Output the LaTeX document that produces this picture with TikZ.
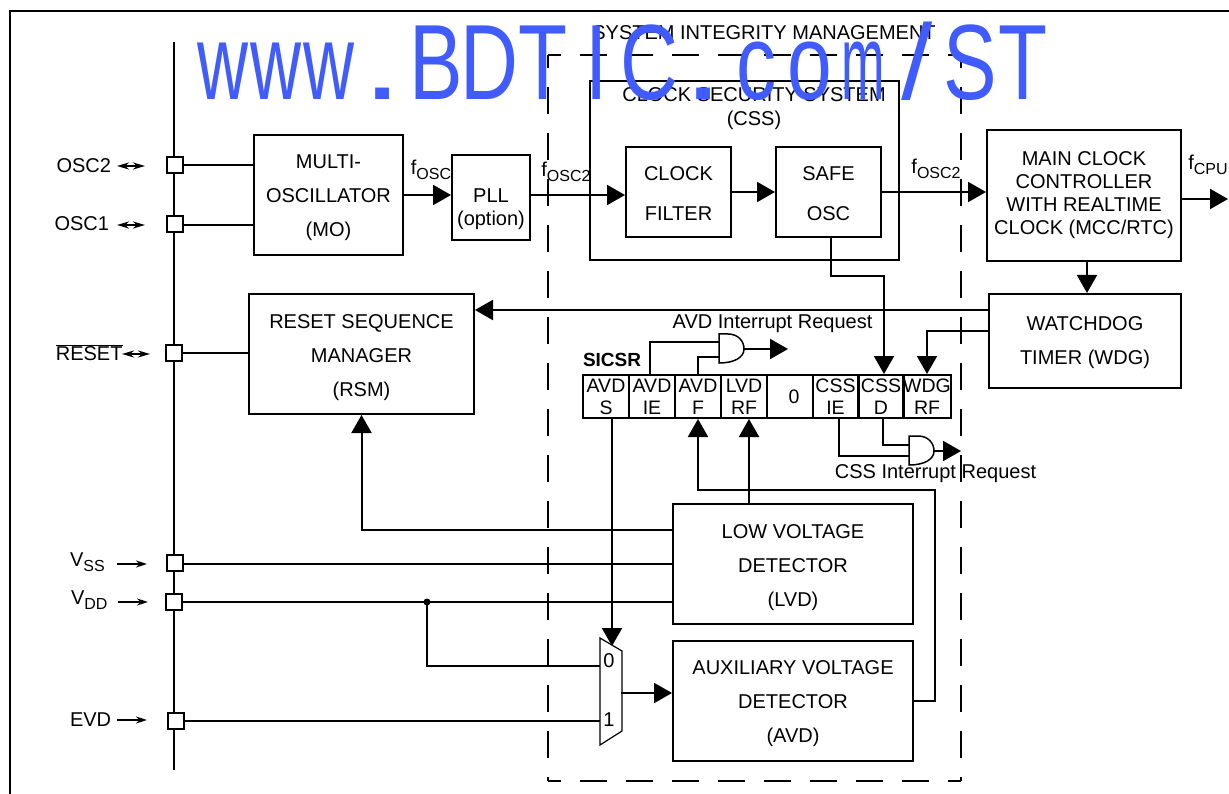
\documentclass[tikz,border=0pt]{standalone}
\usepackage{fontspec}
\setmainfont{Liberation Sans}
\usetikzlibrary{arrows.meta}
\definecolor{markblue}{RGB}{64,92,255}
\newcommand{\subtext}[1]{\raisebox{-5pt}{\fontsize{16}{16}\selectfont #1}}
\newcommand{\topdrop}[1]{\rule{0pt}{#1}}
\newcommand{\markcell}[2][1]{\makebox[71.2pt][c]{\scalebox{#1}[1]{#2}}}
\begin{document}
\begin{tikzpicture}[x=1pt,y=-1pt,line width=2pt]

	\tikzset{
	  blockbox/.style={
		draw,
		align=center,
		inner sep=0pt,
		font=\fontsize{20}{34}\selectfont,
	  },
	  pinbox/.style={
		draw,
		fill=white,
		inner sep=0pt,
		minimum width=16pt,
		minimum height=16pt,
	  },
	  regcell/.style={
		draw,
		align=center,
		inner sep=0pt,
		minimum width=46pt,
		minimum height=43pt,
		font=\fontsize{19.5}{22}\selectfont,
	  },
	  label/.style={
		inner sep=0pt,
		font=\fontsize{20}{22}\selectfont,
	  },
	  boundary/.style={
		dash pattern=on 27pt off 19pt,
		dash phase=14pt,
	  },
	  bigarrow/.style={-{Triangle[length=18pt,width=20pt]}},
	  pinarrow/.style={-{Stealth[length=11pt,width=7pt]}},
	  bothpinarrow/.style={{Stealth[length=12pt,width=7pt]}-{Stealth[length=12pt,width=7pt]}},
	  andgate/.pic={
		\draw[line width=1.5pt,fill=white] (0,0) -- (9,0) .. controls (19,0) and (25,7) .. (25,15)
			.. controls (25,23) and (16,29) .. (0,29) -- cycle;
	  },
	}
	\useasboundingbox (0,0) rectangle (1229,794);

	% frame and bus
	\draw (10,794) -- (10,11) -- (1229,11);
	\draw (173.5,42) -- (173.5,770);
	\draw[boundary] (548,55) -- (961,55);
	\draw[boundary] (548,781) -- (961,781);
	\draw[boundary] (548,55) -- (548,781);
	\draw[boundary] (961,55) -- (961,781);

	% blocks
	\node[blockbox,minimum width=149pt,minimum height=120pt] (mo) at (328.5,195) {\topdrop{20pt}MULTI-\\OSCILLATOR\\(MO)};
	\node[blockbox,minimum width=78pt,minimum height=85pt,font=\fontsize{20}{23}\selectfont] (pll) at (491,197.5) {\topdrop{37pt}PLL\\(option)};
	\node[draw,minimum width=309pt,minimum height=179pt] (css) at (744.5,170.5) {};
	\node[blockbox,minimum width=105pt,minimum height=90pt,font=\fontsize{20}{40}\selectfont] (filter) at (678.5,192) {\topdrop{17pt}CLOCK\\FILTER};
	\node[blockbox,minimum width=105pt,minimum height=90pt,font=\fontsize{20}{40}\selectfont] (safe) at (828.5,192) {\topdrop{17pt}SAFE\\OSC};
	\node[blockbox,minimum width=194pt,minimum height=131pt,font=\fontsize{20}{23}\selectfont] (mcc) at (1084,195.5) {MAIN CLOCK\\CONTROLLER\\WITH REALTIME\\CLOCK (MCC/RTC)};
	\node[blockbox,minimum width=192pt,minimum height=94pt] (wdg) at (1085,341) {\topdrop{17pt}WATCHDOG\\TIMER (WDG)};
	\node[blockbox,minimum width=225pt,minimum height=120pt] (rsm) at (361.5,354) {\topdrop{21pt}RESET SEQUENCE\\MANAGER\\(RSM)};
	\node[blockbox,minimum width=240pt,minimum height=120pt] (lvd) at (793,564) {\topdrop{21pt}LOW VOLTAGE\\DETECTOR\\(LVD)};
	\node[blockbox,minimum width=240pt,minimum height=120pt] (avd) at (793,701) {\topdrop{20pt}AUXILIARY VOLTAGE\\DETECTOR\\(AVD)};

	% pins
	\node[pinbox] (osctwo) at (174.5,165) {};
	\node[pinbox] (oscone) at (175,224) {};
	\node[pinbox] (rst) at (173.5,353) {};
	\node[pinbox] (vss) at (175,563) {};
	\node[pinbox] (vdd) at (174,602) {};
	\node[pinbox] (evd) at (176,721) {};
	\node[label,anchor=east] (osctwotext) at (112,166) {OSC2};
	\node[label,anchor=east] (osconetext) at (110,224) {OSC1};
	\node[label,anchor=east] (rsttext) at (123.5,353) {$\overline{\mbox{RESET}}$};
	\node[label,anchor=west] (vsstext) at (69,562) {V\subtext{SS}};
	\node[label,anchor=west] (vddtext) at (70,600) {V\subtext{DD}};
	\node[label,anchor=west] (evdtext) at (69,720) {EVD};
	\draw[bothpinarrow] (117,166) -- (145,166);
	\draw[bothpinarrow] (117,225) -- (145,225);
	\draw[bothpinarrow] (122,354) -- (150,354);
	\draw[pinarrow] (117,564) -- (147,564);
	\draw[pinarrow] (118,602) -- (148,602);
	\draw[pinarrow] (117,720) -- (147,720);

	% register
	\node[label,anchor=west,font=\fontsize{19}{22}\selectfont\bfseries] (sicsr) at (582,360) {SICSR};
	\node[regcell] (avds) at (606,396.5) {AVD\\S};
	\node[regcell] (avdie) at (652,396.5) {AVD\\IE};
	\node[regcell] (avdf) at (698,396.5) {AVD\\F};
	\node[regcell] (lvdrf) at (744,396.5) {LVD\\RF};
	\node[regcell] (zerobit) at (790,396.5) {\hspace*{8pt}0};
	\node[regcell] (cssie) at (835.5,396.5) {CSS\\IE};
	\node[regcell] (cssd) at (881,396.5) {CSS\\D};
	\node[regcell] (wdgrf) at (927,396.5) {WDG\\RF};

	% gates and mux
	\pic at (719,334) {andgate};
	\pic at (909,436) {andgate};
	\coordinate (avdgate) at (744,349);
	\coordinate (cssgate) at (934,451);
	\coordinate (avdreq) at (788,349);
	\coordinate (cssreq) at (961,451);
	\draw[line width=1.2pt] (600,638) -- (622,651) -- (622,731) -- (600,745) -- cycle;
	\coordinate (muxtop) at (612,646);
	\coordinate (muxzero) at (600,666);
	\coordinate (muxone) at (600,721);
	\coordinate (muxout) at (621,693);
	\node[label] (muxzerotext) at (609,661) {0};
	\node[label] (muxonetext) at (609,720) {1};

	% connectors
	\draw (osctwo.east) -- (osctwo.east -| mo.west);
	\draw (oscone.east |- 0,225) -- (mo.west |- 0,225);
	\draw[bigarrow] (mo.east) -- (mo.east -| pll.west);
	\draw[bigarrow] ([yshift=-3pt]filter.west -| pll.east) -- ([yshift=-3pt]filter.west);
	\draw[bigarrow] (filter.east) -- (safe.west);
	\draw[bigarrow] (safe.east) -- (safe.east -| mcc.west);
	\coordinate (cpuout) at (1228,199);
	\draw[bigarrow] (cpuout -| mcc.east) -- (cpuout);
	\draw[bigarrow] ([xshift=3pt]mcc.south) -- ([xshift=3pt]mcc.south |- wdg.north);
	\coordinate (wdgrst) at (989,310);
	\draw[bigarrow] (wdgrst) -- (wdgrst -| rsm.east);
	\coordinate (wdgflag) at (989,331);
	\draw[bigarrow] (wdgflag) -| (wdgrf.north);
	\coordinate (safeout) at (831,276);
	\draw[bigarrow] (safe.south -| safeout) -- (safeout) -| ([xshift=3pt]cssd.north);
	\draw (rst.east) -- (rst.east -| rsm.west);
	\coordinate (lvdrst) at (673,530);
	\draw[bigarrow] (lvdrst) -| (rsm.south);
	\draw (vss.east |- lvd.west) -- (lvd.west);
	\draw (vdd.east) -- (vdd.east -| lvd.west);
	\fill (427,602) circle (3.5pt) coordinate (vddjoin);
	\draw (vddjoin) |- (muxzero);
	\draw (evd.east) -- (muxone);
	\draw[bigarrow] (muxout) -- (muxout -| avd.west);
	\draw[bigarrow] ([xshift=6pt]avds.south) -- (muxtop);
	\draw[bigarrow] ([xshift=5pt]lvdrf.south |- lvd.north) -- ([xshift=5pt]lvdrf.south);
	\coordinate (avdback) at (935,490);
	\draw[bigarrow] (avd.east) -| (avdback) -| (avdf.south);
	\draw ([xshift=-2pt]avdie.north) |- (719,342);
	\draw (avdf.north) |- (719,357);
	\draw[bigarrow] (avdgate) -- (avdreq);
	\draw ([xshift=2pt]cssd.south) |- (909,445);
	\draw ([xshift=3.5pt]cssie.south) |- (909,456);
	\draw[bigarrow] (cssgate) -- (cssreq);

	% texts
	\node[label] (fosctext) at (431,170) {f\subtext{OSC}};
	\node[label] (fosctwotext) at (566,172) {f\subtext{OSC2}};
	\node[label] (foscthreetext) at (936,169) {f\subtext{OSC2}};
	\node[label] (fcputext) at (1208,165) {f\subtext{CPU}};
	\node[label] (systext) at (764,33) {SYSTEM INTEGRITY MANAGEMENT};
	\node[label] (csstext) at (754,95) {CLOCK SECURITY SYSTEM};
	\node[label] (cssshort) at (754,120) {(CSS)};
	\node[label] (avdreqtext) at (772.5,324) {AVD Interrupt Request};
	\node[label] (cssreqtext) at (935.5,474) {CSS Interrupt Request};

	% watermark
	\node[inner sep=0pt,anchor=base,text=markblue,xscale=0.75] (mark) at (623,100)
		{\fontsize{107}{107}\selectfont\markcell[.88]{w}\markcell[.88]{w}\markcell[.88]{w}\markcell[1.8]{.}\markcell{B}\markcell{D}\markcell{T}\markcell{I}\markcell{C}\markcell[1.8]{.}\markcell{c}\markcell{o}\markcell[.65]{m}\markcell[1.4]{/}\markcell{S}\markcell{T}};

\end{tikzpicture}
\end{document}
